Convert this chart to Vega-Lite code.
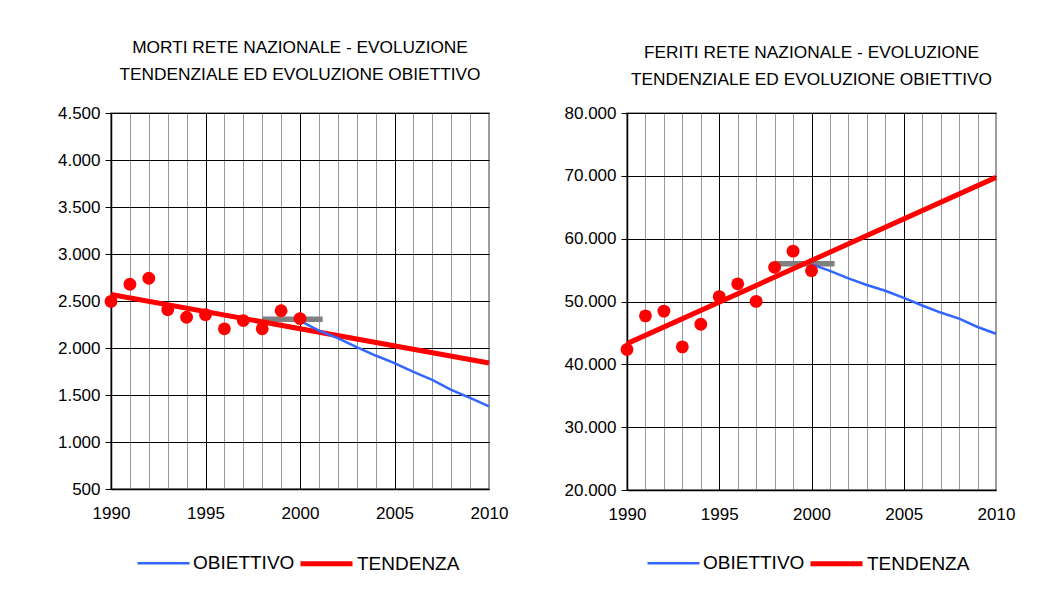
{
  "$schema": "https://vega.github.io/schema/vega-lite/v6.json",
  "background": "white",
  "padding": {"left": 56, "top": 37, "right": 5, "bottom": 5},
  "spacing": 54,
  "columns": 2,
  "align": "none",
  "resolve": {"scale": {"color": "independent", "strokeWidth": "independent"}},
  "config": {
    "font": "Liberation Sans",
    "view": {"stroke": "#808080", "strokeWidth": 1.5},
    "axis": {
      "labelFont": "Liberation Sans",
      "labelFontSize": 17,
      "labelColor": "black",
      "domainColor": "black",
      "domainWidth": 1.5,
      "tickColor": "black",
      "gridOpacity": 1,
      "title": null
    },
    "title": {
      "font": "Liberation Sans",
      "fontSize": 17.3,
      "fontWeight": "normal",
      "color": "black",
      "anchor": "middle",
      "frame": "group",
      "lineHeight": 27
    },
    "legend": {
      "orient": "none",
      "direction": "horizontal",
      "symbolType": "stroke",
      "symbolSize": 2704,
      "labelFont": "Liberation Sans",
      "labelFontSize": 19,
      "labelColor": "black",
      "labelOffset": 2,
      "columnPadding": -5,
      "padding": 0,
      "title": null
    }
  },
  "datasets": {
    "morti_serie": [
      {"serie": "TENDENZA", "anno": 1990, "valore": 2570},
      {"serie": "TENDENZA", "anno": 2010, "valore": 1840},
      {"serie": "OBIETTIVO", "anno": 2000, "valore": 2290},
      {"serie": "OBIETTIVO", "anno": 2001, "valore": 2185},
      {"serie": "OBIETTIVO", "anno": 2002, "valore": 2105},
      {"serie": "OBIETTIVO", "anno": 2003, "valore": 2010},
      {"serie": "OBIETTIVO", "anno": 2004, "valore": 1920},
      {"serie": "OBIETTIVO", "anno": 2005, "valore": 1840},
      {"serie": "OBIETTIVO", "anno": 2006, "valore": 1745},
      {"serie": "OBIETTIVO", "anno": 2007, "valore": 1660},
      {"serie": "OBIETTIVO", "anno": 2008, "valore": 1555},
      {"serie": "OBIETTIVO", "anno": 2009, "valore": 1470},
      {"serie": "OBIETTIVO", "anno": 2010, "valore": 1378}
    ],
    "morti_dati": [
      {"anno": 1990, "valore": 2496},
      {"anno": 1991, "valore": 2678},
      {"anno": 1992, "valore": 2742},
      {"anno": 1993, "valore": 2408},
      {"anno": 1994, "valore": 2327},
      {"anno": 1995, "valore": 2355},
      {"anno": 1996, "valore": 2204},
      {"anno": 1997, "valore": 2292},
      {"anno": 1998, "valore": 2204},
      {"anno": 1999, "valore": 2397},
      {"anno": 2000, "valore": 2313}
    ],
    "morti_media": [
      {"da": 1998, "a": 2001.2, "valore": 2305}
    ],
    "feriti_serie": [
      {"serie": "TENDENZA", "anno": 1990, "valore": 43300},
      {"serie": "TENDENZA", "anno": 2010, "valore": 69750},
      {"serie": "OBIETTIVO", "anno": 2000, "valore": 55900},
      {"serie": "OBIETTIVO", "anno": 2001, "valore": 54870},
      {"serie": "OBIETTIVO", "anno": 2002, "valore": 53690},
      {"serie": "OBIETTIVO", "anno": 2003, "valore": 52630},
      {"serie": "OBIETTIVO", "anno": 2004, "valore": 51710},
      {"serie": "OBIETTIVO", "anno": 2005, "valore": 50590},
      {"serie": "OBIETTIVO", "anno": 2006, "valore": 49360},
      {"serie": "OBIETTIVO", "anno": 2007, "valore": 48240},
      {"serie": "OBIETTIVO", "anno": 2008, "valore": 47280},
      {"serie": "OBIETTIVO", "anno": 2009, "valore": 45940},
      {"serie": "OBIETTIVO", "anno": 2010, "valore": 44870}
    ],
    "feriti_dati": [
      {"anno": 1990, "valore": 42360},
      {"anno": 1991, "valore": 47717},
      {"anno": 1992, "valore": 48473},
      {"anno": 1993, "valore": 42780},
      {"anno": 1994, "valore": 46382},
      {"anno": 1995, "valore": 50774},
      {"anno": 1996, "valore": 52816},
      {"anno": 1997, "valore": 50018},
      {"anno": 1998, "valore": 55438},
      {"anno": 1999, "valore": 58012},
      {"anno": 2000, "valore": 54907}
    ],
    "feriti_media": [
      {"da": 1998, "a": 2001.25, "valore": 56000}
    ]
  },
  "concat": [
    {
      "width": 378,
      "height": 376,
      "title": {"text": ["MORTI RETE NAZIONALE - EVOLUZIONE", "TENDENZIALE ED EVOLUZIONE OBIETTIVO"], "offset": 21},
      "layer": [
        {
          "data": {"name": "morti_media"},
          "mark": {"type": "rule", "color": "#808080", "strokeWidth": 5.5},
          "encoding": {
            "x": {
              "field": "da", "type": "quantitative",
              "scale": {"domain": [1990, 2010], "nice": false, "zero": false},
              "axis": {
                "values": [1990, 1991, 1992, 1993, 1994, 1995, 1996, 1997, 1998, 1999, 2000, 2001, 2002, 2003, 2004, 2005, 2006, 2007, 2008, 2009, 2010],
                "tickCount": 30,
                "format": "d",
                "labelExpr": "datum.value % 5 === 0 ? datum.label : ''",
                "labelFlush": false,
                "labelOverlap": false,
                "ticks": false,
                "labelPadding": 16,
                "grid": true,
                "gridColor": {"condition": {"test": "datum.value % 5 === 0 && datum.value < 2010", "value": "#000000"}, "value": "#999999"}
              }
            },
            "x2": {"field": "a"},
            "y": {
              "field": "valore", "type": "quantitative",
              "scale": {"domain": [500, 4500], "nice": false, "zero": false},
              "axis": {
                "values": [500, 1000, 1500, 2000, 2500, 3000, 3500, 4000, 4500],
                "tickCount": 20,
                "labelExpr": "replace(format(datum.value, ','), ',', '.')",
                "tickSize": 6,
                "labelPadding": 5,
                "grid": true,
                "gridColor": "#000000"
              }
            }
          }
        },
        {
          "data": {"name": "morti_serie"},
          "mark": {"type": "line", "strokeCap": "butt"},
          "encoding": {
            "x": {"field": "anno", "type": "quantitative"},
            "y": {"field": "valore", "type": "quantitative"},
            "color": {"field": "serie", "type": "nominal", "scale": {"domain": ["OBIETTIVO", "TENDENZA"], "range": ["#3366FF", "#FF0000"]}, "legend": {"legendX": 25, "legendY": 422}},
            "strokeWidth": {"field": "serie", "type": "nominal", "scale": {"domain": ["OBIETTIVO", "TENDENZA"], "range": [2.5, 5]}, "legend": {"legendX": 25, "legendY": 422}}
          }
        },
        {
          "data": {"name": "morti_dati"},
          "mark": {"type": "circle", "color": "#FF0000", "opacity": 1, "size": 165},
          "encoding": {
            "x": {"field": "anno", "type": "quantitative"},
            "y": {"field": "valore", "type": "quantitative"}
          }
        }
      ]
    },
    {
      "width": 369,
      "height": 377,
      "title": {"text": ["FERITI RETE NAZIONALE - EVOLUZIONE", "TENDENZIALE ED EVOLUZIONE OBIETTIVO"], "offset": 16},
      "layer": [
        {
          "data": {"name": "feriti_media"},
          "mark": {"type": "rule", "color": "#808080", "strokeWidth": 5.5},
          "encoding": {
            "x": {
              "field": "da", "type": "quantitative",
              "scale": {"domain": [1990, 2010], "nice": false, "zero": false},
              "axis": {
                "values": [1990, 1991, 1992, 1993, 1994, 1995, 1996, 1997, 1998, 1999, 2000, 2001, 2002, 2003, 2004, 2005, 2006, 2007, 2008, 2009, 2010],
                "tickCount": 30,
                "format": "d",
                "labelExpr": "datum.value % 5 === 0 ? datum.label : ''",
                "labelFlush": false,
                "labelOverlap": false,
                "ticks": false,
                "labelPadding": 16,
                "grid": true,
                "gridColor": {"condition": {"test": "datum.value % 5 === 0 && datum.value < 2010", "value": "#000000"}, "value": "#999999"}
              }
            },
            "x2": {"field": "a"},
            "y": {
              "field": "valore", "type": "quantitative",
              "scale": {"domain": [20000, 80000], "nice": false, "zero": false},
              "axis": {
                "values": [20000, 30000, 40000, 50000, 60000, 70000, 80000],
                "tickCount": 20,
                "labelExpr": "replace(format(datum.value, ','), ',', '.')",
                "tickSize": 6,
                "labelPadding": 5,
                "grid": true,
                "gridColor": "#000000"
              }
            }
          }
        },
        {
          "data": {"name": "feriti_serie"},
          "mark": {"type": "line", "strokeCap": "butt"},
          "encoding": {
            "x": {"field": "anno", "type": "quantitative"},
            "y": {"field": "valore", "type": "quantitative"},
            "color": {"field": "serie", "type": "nominal", "scale": {"domain": ["OBIETTIVO", "TENDENZA"], "range": ["#3366FF", "#FF0000"]}, "legend": {"legendX": 19, "legendY": 422}},
            "strokeWidth": {"field": "serie", "type": "nominal", "scale": {"domain": ["OBIETTIVO", "TENDENZA"], "range": [2.5, 5]}, "legend": {"legendX": 19, "legendY": 422}}
          }
        },
        {
          "data": {"name": "feriti_dati"},
          "mark": {"type": "circle", "color": "#FF0000", "opacity": 1, "size": 165},
          "encoding": {
            "x": {"field": "anno", "type": "quantitative"},
            "y": {"field": "valore", "type": "quantitative"}
          }
        }
      ]
    }
  ]
}
